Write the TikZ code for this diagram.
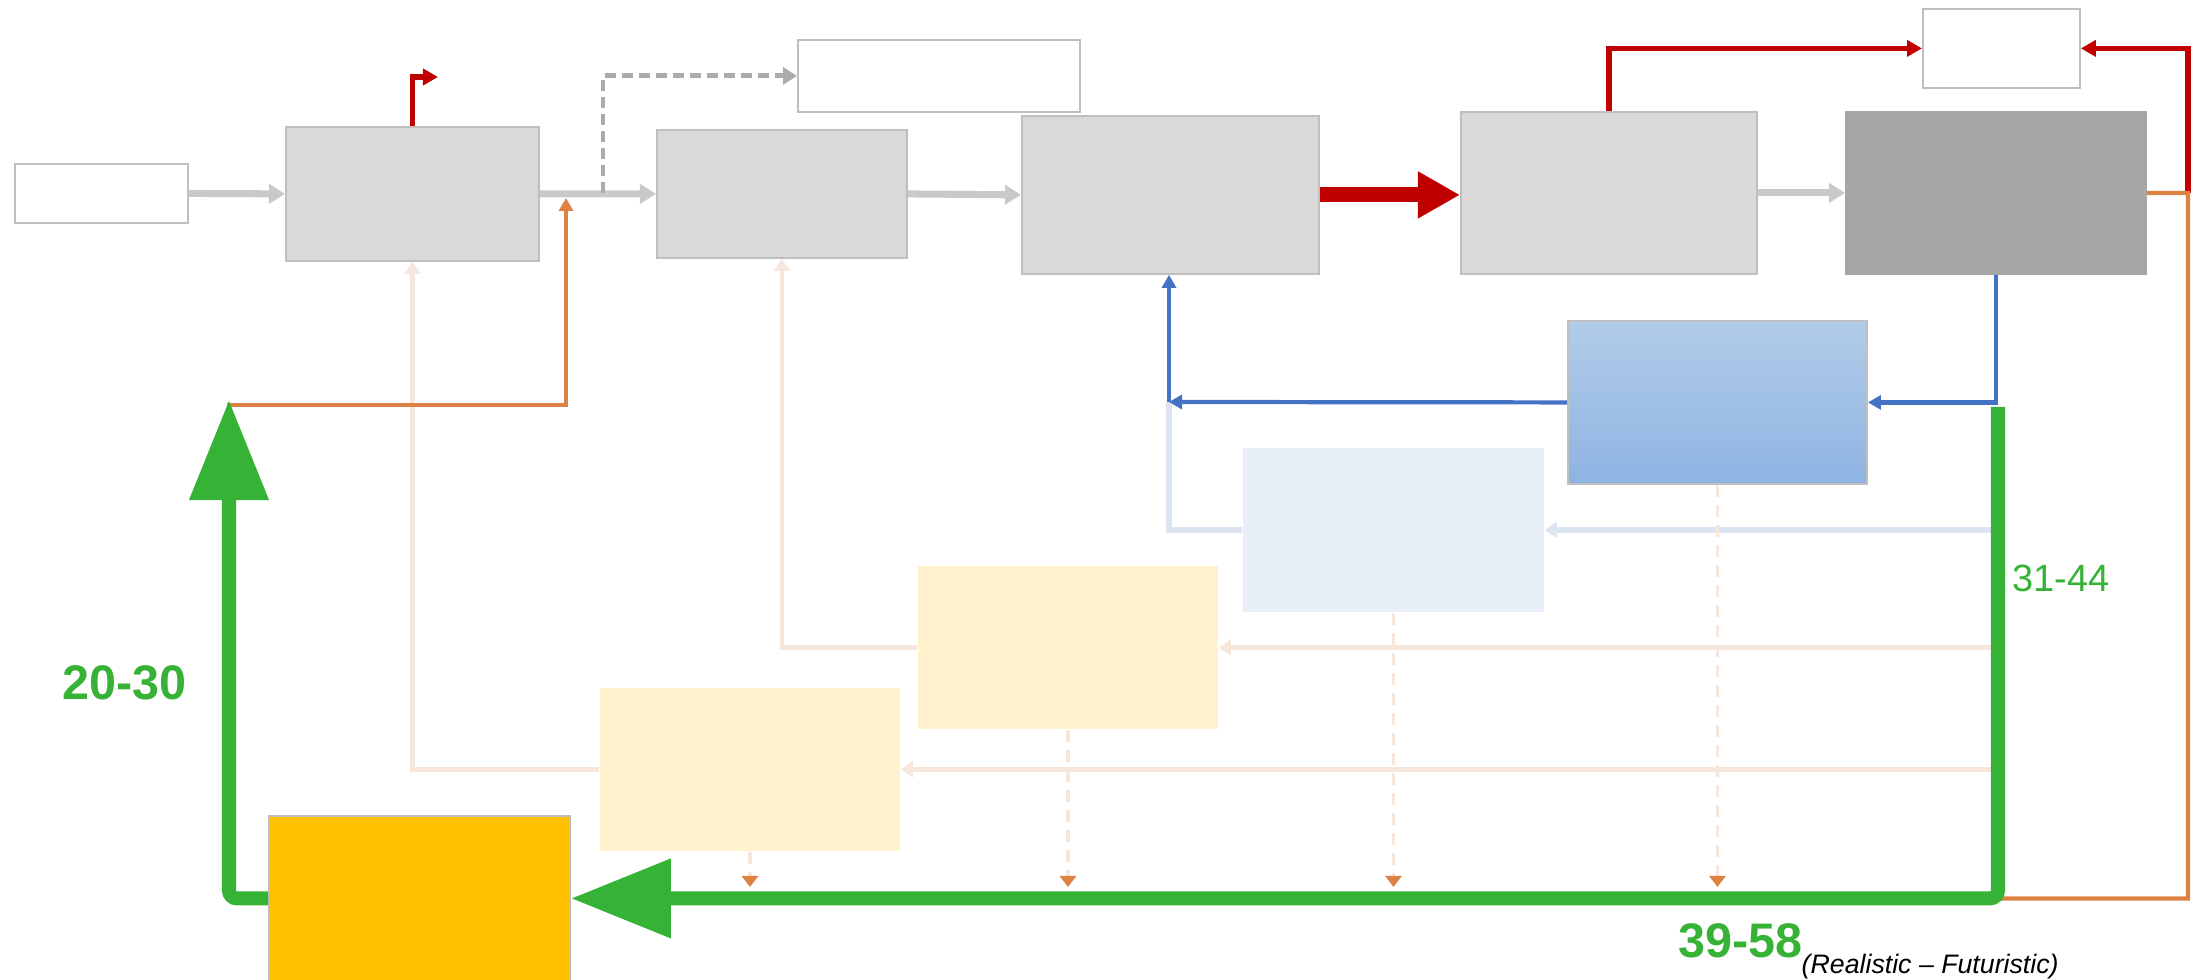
\documentclass[tikz,border=0pt]{standalone}
\usepackage{fontspec}
\setmainfont{Liberation Sans}
\definecolor{BoxGrey}{HTML}{D9D9D9}
\definecolor{BoxDark}{HTML}{A6A6A6}
\definecolor{EdgeGrey}{HTML}{BFBFBF}
\definecolor{FlowGrey}{HTML}{C9C9C9}
\definecolor{DashGrey}{HTML}{ABABAB}
\definecolor{FlowRed}{HTML}{C00000}
\definecolor{FlowOrange}{HTML}{DE8244}
\definecolor{FlowBlue}{HTML}{4472C4}
\definecolor{PaleBlue}{HTML}{DCE4F2}
\definecolor{BoxPaleBlue}{HTML}{E9EFF8}
\definecolor{BlueTop}{HTML}{B2CCE9}
\definecolor{BlueBot}{HTML}{8EB3E2}
\definecolor{PaleYellow}{HTML}{FFF2CC}
\definecolor{Peach}{HTML}{F7E6DC}
\definecolor{Amber}{HTML}{FFC000}
\definecolor{FlowGreen}{HTML}{36B236}
\usetikzlibrary{arrows.meta}

\begin{document}
\begin{tikzpicture}[x=0.01cm,y=-0.01cm,
  blk/.style={draw=EdgeGrey,line width=0.5pt,inner sep=0pt,anchor=north west},
  sz/.style 2 args={minimum width=#1cm,minimum height=#2cm},
  greyflow/.style={draw=FlowGrey,line width=2pt,-{Triangle[length=1.6mm,width=1.9mm]}},
  greydash/.style={draw=DashGrey,line width=1.4pt,dash pattern=on 1.1mm off 0.6mm,-{Triangle[length=1.4mm,width=1.7mm]}},
  redflow/.style={draw=FlowRed,line width=1.6pt,-{Triangle[length=1.5mm,width=1.6mm]}},
  orangeline/.style={draw=FlowOrange,line width=1.2pt},
  blueflow/.style={draw=FlowBlue,line width=1.2pt,-{Triangle[length=1.3mm,width=1.4mm]}},
  palearrow/.style={draw=PaleBlue,line width=1.6pt,-{Triangle[length=1.2mm,width=1.6mm]}},
  peacharrow/.style={draw=Peach,line width=1.4pt,-{Triangle[length=1.2mm,width=1.6mm]}},
  drop/.style={draw=Peach,line width=1.1pt,dash pattern=on 1.2mm off 0.8mm,
    -{Triangle[length=1.1mm,width=1.6mm,color=FlowOrange]}},
  greenflow/.style={draw=FlowGreen,line width=4pt,rounded corners=0.08cm,
    -{Triangle[length=10mm,width=7.6mm]}}]
  \useasboundingbox (0,0) rectangle (2203,980);

  % top row of stages
  \node[blk,fill=white,sz={1.73}{0.59}] (in1) at (14,163) {};
  \node[blk,fill=BoxGrey,sz={2.53}{1.34}] (blkA) at (285,126) {};
  \node[blk,fill=BoxGrey,sz={2.50}{1.28}] (blkB) at (656,129) {};
  \node[blk,fill=BoxGrey,sz={2.97}{1.58}] (blkC) at (1021,115) {};
  \node[blk,fill=BoxGrey,sz={2.96}{1.62}] (blkD) at (1460,111) {};
  \node[blk,fill=BoxDark,draw=BoxDark,sz={3.00}{1.62}] (blkE) at (1845,111) {};

  % outlets above
  \node[blk,fill=white,sz={2.82}{0.72}] (outMid) at (797,39) {};
  \node[blk,fill=white,sz={1.57}{0.79}] (outTop) at (1922,8) {};

  % feedback blocks
  \node[blk,top color=BlueTop,bottom color=BlueBot,sz={2.99}{1.63}] (blueBlk) at (1567,320) {};
  \node[blk,draw=none,fill=BoxPaleBlue,sz={3.01}{1.64}] (paleBlk) at (1242,447) {};
  \node[blk,draw=none,fill=PaleYellow,sz={3.00}{1.63}] (yelA) at (917,565) {};
  \node[blk,draw=none,fill=PaleYellow,sz={3.00}{1.63}] (yelB) at (599,687) {};
  \node[blk,fill=Amber,sz={3.01}{1.65}] (ambBlk) at (268,815) {};

  % bend points
  \coordinate (flagA) at (438,77);
  \coordinate (tapA) at (603,193);
  \coordinate (joinA) at (566,198);
  \coordinate (cornerL) at (229,405);
  \coordinate (rimE) at (2188,193);
  \coordinate (greenTop) at (1998,407);
  \coordinate (greenUp) at (229,400);
  \coordinate (blueKnee) at (1169,402);
  \coordinate (floor) at (0,887);

  % main flow
  \draw[greyflow] (in1.east) -- (blkA.west);
  \draw[greyflow] (blkA.east) -- (blkB.west);
  \draw[greyflow] (blkB.east) -- (blkC.west);
  \draw[greyflow] (blkD.east) -- (blkE.west);
  \draw[greydash] (tapA) |- (outMid.west);
  \draw[draw=FlowRed,line width=4.3pt,-{Triangle[length=4.2mm,width=4.4mm]}]
    (blkC.east) -- (blkC.east -| blkD.west);
  \draw[redflow] (blkA.north) |- (flagA);
  \draw[redflow] (blkD.north) |- (outTop.west);
  \draw[redflow] (rimE) |- (outTop.east);

  % pale feedback lines
  \draw[peacharrow] (greenTop |- yelA.east) -- (yelA.east);
  \draw[peacharrow] (yelA.west) -| (blkB.south);
  \draw[peacharrow] (greenTop |- yelB.east) -- (yelB.east);
  \draw[peacharrow] (yelB.west) -| (blkA.south);
  \draw[palearrow] (greenTop |- paleBlk.east) -- (paleBlk.east);
  \draw[draw=PaleBlue,line width=1.6pt] (paleBlk.west) -| (blueKnee);
  \foreach \b in {blueBlk,paleBlk,yelA,yelB}
    \draw[drop] (\b.south) -- (\b.south |- floor);

  % blue loop
  \draw[blueflow] (blkE.south) |- (blueBlk.east);
  \draw[blueflow] (blueBlk.west) -- (blueKnee);
  \draw[blueflow] (blueKnee) -- (blueKnee |- blkC.south);

  % orange return
  \draw[orangeline] (blkE.east) -- (rimE) |- (greenTop |- ambBlk.east);
  \draw[orangeline,-{Triangle[length=1.3mm,width=1.4mm]}] (ambBlk.west) -| (cornerL) -| (joinA);

  % green loop
  \draw[greenflow] (greenTop) |- (ambBlk.east);
  \draw[greenflow] (ambBlk.west) -| (greenUp);

  % labels
  \node[anchor=base west,text=FlowGreen,font=\fontsize{13.8}{16}\selectfont\bfseries,inner sep=0pt]
    (lblLeft) at (62,700) {20-30};
  \node[anchor=base west,text=FlowGreen,font=\fontsize{10.8}{13}\selectfont,inner sep=0pt]
    (lblRight) at (2012,592) {31-44};
  \node[anchor=base west,text=FlowGreen,font=\fontsize{13.8}{16}\selectfont\bfseries,inner sep=0pt]
    (lblBottom) at (1678,958) {39-58};
  \node[anchor=base west,font=\fontsize{7.6}{9}\selectfont\itshape,inner sep=0pt]
    (lblSub) at (1801,973) {(Realistic -- Futuristic)};
\end{tikzpicture}
\end{document}
